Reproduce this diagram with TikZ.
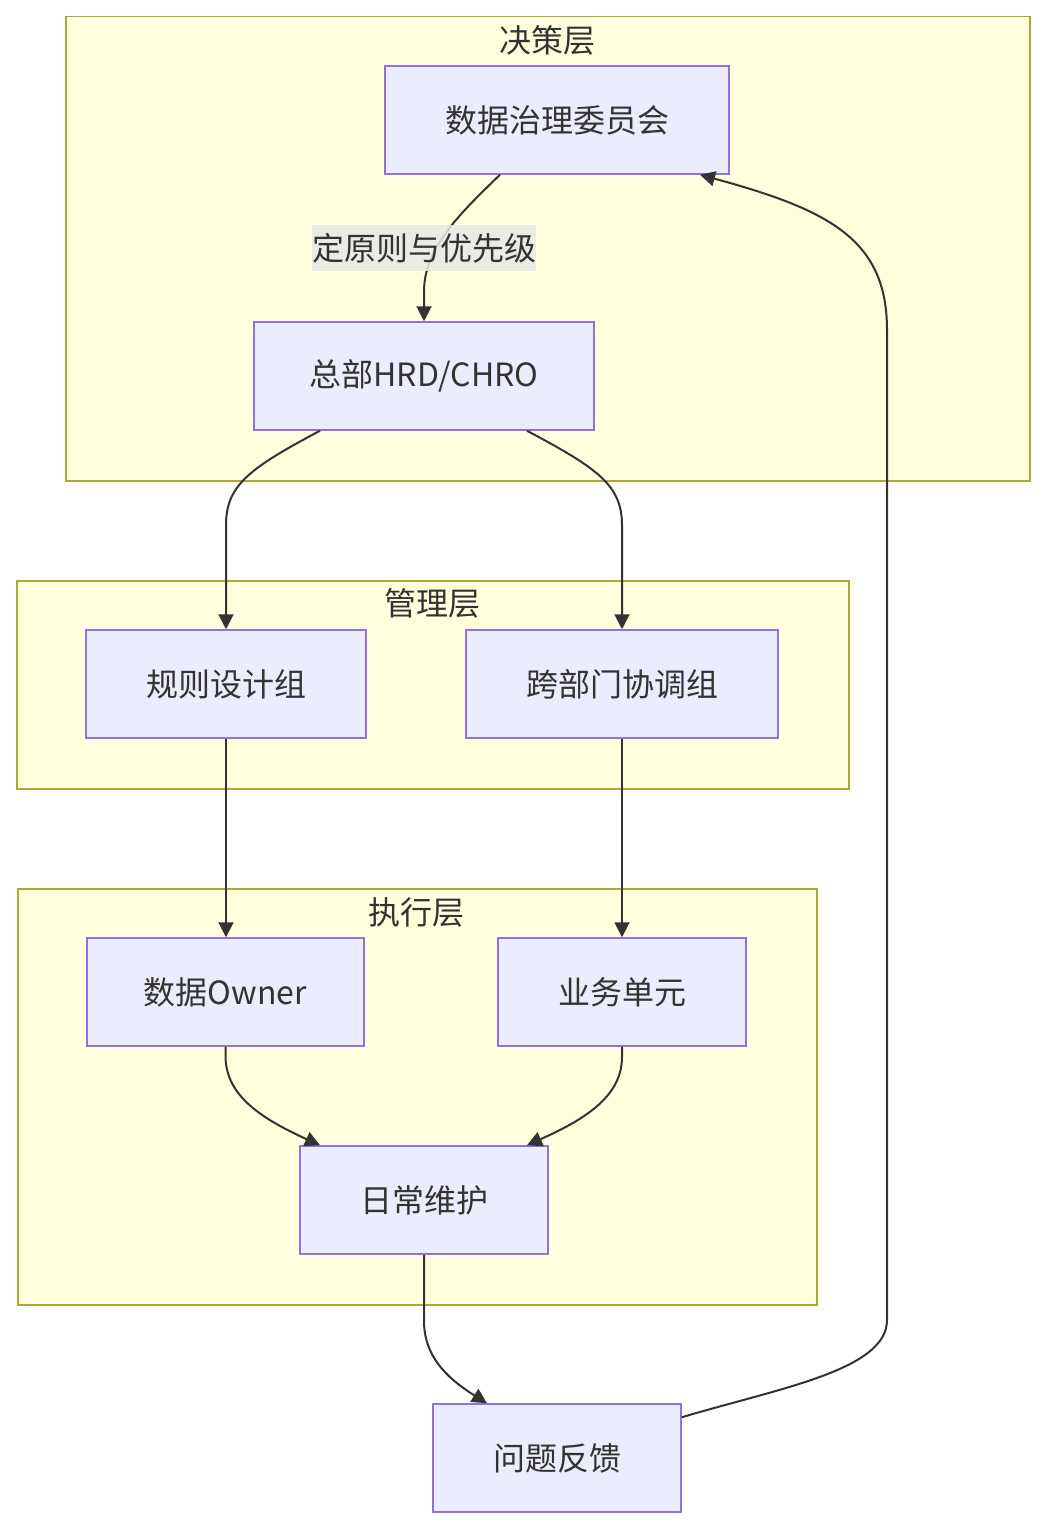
\documentclass[tikz,border=0pt]{standalone}
\usepackage{fontspec}
\setmainfont{Noto Sans CJK SC}
\usetikzlibrary{arrows.meta,calc}
\definecolor{clfill}{HTML}{FFFFDE}
\definecolor{cldraw}{HTML}{AAAA33}
\definecolor{ndfill}{HTML}{ECECFF}
\definecolor{nddraw}{HTML}{9370DB}
\definecolor{edgec}{HTML}{333333}
\definecolor{lblc}{HTML}{E8E8E8}
\begin{document}
\begin{tikzpicture}[x=1pt,y=-1pt,
 cluster/.style={draw=cldraw,fill=clfill,line width=1.5pt,inner sep=0pt,anchor=north west},
 box/.style={draw=nddraw,fill=ndfill,line width=1.5pt,minimum height=108pt,inner sep=0pt,text=edgec,font=\fontsize{32}{38}\selectfont},
 ctitle/.style={text=edgec,inner sep=0pt,font=\fontsize{32}{38}\selectfont},
 conn/.style={draw=edgec,line width=2pt,-{Triangle[length=15pt,width=15pt]}}]
\useasboundingbox (0,0) rectangle (1045,1528);
\fill[white] (0,0) rectangle (1045,1528);

% clusters
\node[cluster,minimum width=964pt,minimum height=464pt] (dec) at (65,16) {};
\node[cluster,minimum width=832pt,minimum height=208pt] (mgt) at (16,580) {};
\node[cluster,minimum width=799pt,minimum height=416pt] (exe) at (17,888) {};
\node[ctitle] (dect) at (547,40) {决策层};
\node[ctitle] (mgtt) at (432,603) {管理层};
\node[ctitle] (exet) at (416,912) {执行层};

% nodes
\node[box,minimum width=344pt] (gov) at (557,120) {数据治理委员会};
\node[box,minimum width=340pt] (hrd) at (424,376) {总部HRD/CHRO};
\node[box,minimum width=280pt] (rule) at (226,684) {规则设计组};
\node[box,minimum width=312pt] (coord) at (622,684) {跨部门协调组};
\node[box,minimum width=277pt] (owner) at (225.5,992) {数据Owner};
\node[box,minimum width=248pt] (biz) at (622,992) {业务单元};
\node[box,minimum width=248pt] (maint) at (424,1200) {日常维护};
\node[box,minimum width=248pt] (fb) at (557,1458) {问题反馈};

% connectors
\draw[conn] ([xshift=-57pt]gov.south) .. controls (455,218) and (424,250) .. (424,292) -- (hrd.north);
\node[fill=lblc,fill opacity=0.85,text opacity=1,inner sep=0pt,minimum width=224pt,minimum height=46pt,text=edgec,font=\fontsize{32}{38}\selectfont] (lab) at (424,248) {定原则与优先级};

\draw[conn] ([xshift=-104pt]hrd.south) .. controls (250,468) and (226,485) .. (226,525) -- (rule.north);
\draw[conn] ([xshift=103pt]hrd.south) .. controls (597,468) and (622,485) .. (622,525) -- (coord.north);
\draw[conn] (rule.south) -- (rule.south |- owner.north);
\draw[conn] (coord.south) -- (biz.north);
\draw[conn] (owner.south) -- ++(0,10) .. controls (226,1095) and (260,1118) .. ([xshift=-104pt]maint.north);
\draw[conn] (biz.south) -- ++(0,10) .. controls (622,1095) and (588,1118) .. ([xshift=103pt]maint.north);
\draw[conn] (maint.south) -- ++(0,66) .. controls (424,1355) and (445,1377) .. ([xshift=-70pt]fb.north);
\draw[conn] ([yshift=-14pt]fb.north east) .. controls (780,1388) and (887,1370) .. (887,1320) -- (887,330) .. controls (887,240) and (830,210) .. ([xshift=143pt]gov.south);
\end{tikzpicture}
\end{document}
